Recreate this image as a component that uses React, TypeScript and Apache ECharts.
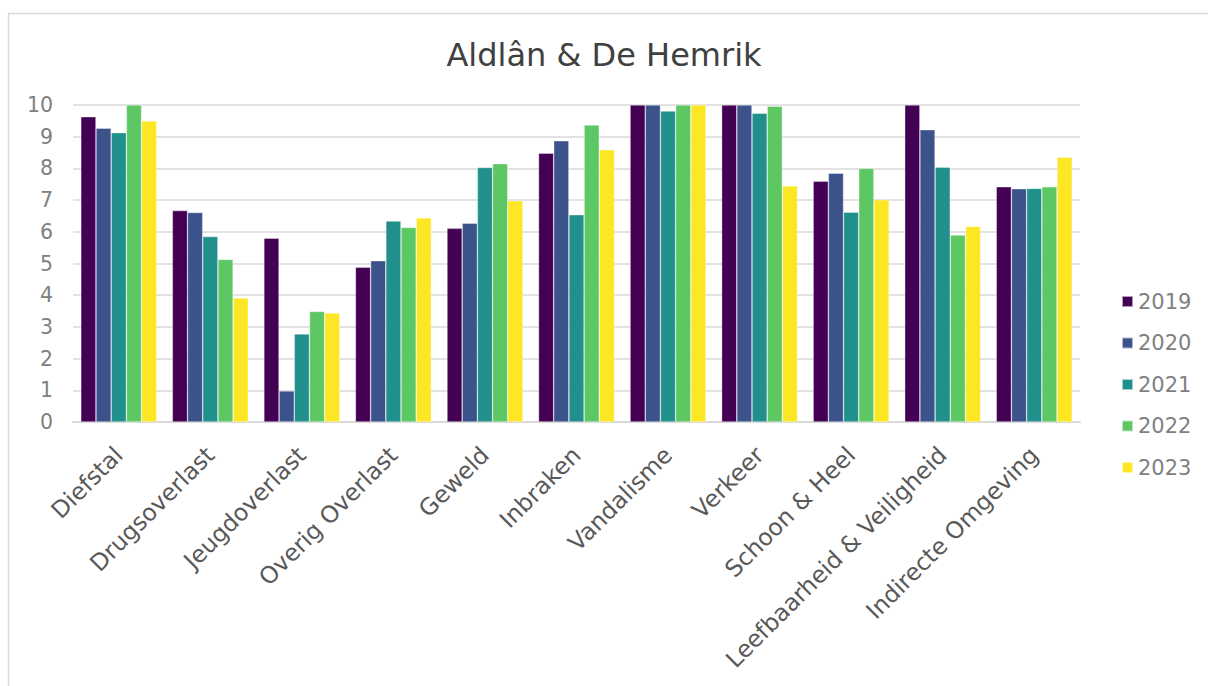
import React, { useEffect, useRef } from "react";
import * as echarts from "echarts";

const title = "Aldlân & De Hemrik";
const categories = [
  "Diefstal",
  "Drugsoverlast",
  "Jeugdoverlast",
  "Overig Overlast",
  "Geweld",
  "Inbraken",
  "Vandalisme",
  "Verkeer",
  "Schoon & Heel",
  "Leefbaarheid & Veiligheid",
  "Indirecte Omgeving",
];
const years = ["2019", "2020", "2021", "2022", "2023"];
const colors = ["#440154", "#3b528b", "#21908d", "#5dc863", "#fde725"];

const v2019 = [9.63, 6.67, 5.8, 4.88, 6.11, 8.48, 10, 10, 7.6, 10, 7.42];
const v2020 = [9.27, 6.61, 0.98, 5.09, 6.27, 8.87, 10, 10, 7.85, 9.22, 7.36];
const v2021 = [9.13, 5.85, 2.78, 6.34, 8.03, 6.54, 9.81, 9.74, 6.62, 8.04, 7.37];
const v2022 = [10, 5.13, 3.49, 6.14, 8.15, 9.37, 10, 9.96, 8.0, 5.9, 7.42];
const v2023 = [9.5, 3.91, 3.44, 6.44, 6.98, 8.59, 10, 7.45, 7.01, 6.17, 8.35];
const seriesValues = [v2019, v2020, v2021, v2022, v2023];

const yTicks = { min: 0, max: 10, interval: 1 };

export default function App() {
  const ref = useRef<HTMLDivElement>(null);
  useEffect(() => {
    if (!ref.current) return;
    const chart = echarts.init(ref.current, null, { renderer: "svg" });
    const font = "DejaVu Sans, Verdana, sans-serif";
    chart.setOption({
      animation: false,
      backgroundColor: "#ffffff",
      textStyle: { fontFamily: font },
      title: {
        text: title,
        left: "center",
        top: 34,
        textStyle: { fontFamily: font, fontSize: 32, fontWeight: "normal", color: "#404040" },
      },
      graphic: [
        {
          type: "rect",
          shape: { x: 8.5, y: 13.5, width: 1210, height: 700 },
          style: { fill: "none", stroke: "#d9d9d9", lineWidth: 1.5 },
          silent: true,
        },
      ],
      legend: {
        orient: "vertical",
        left: 1121,
        top: 291,
        padding: 0,
        itemWidth: 11,
        itemHeight: 11,
        itemGap: 20.5,
        icon: "rect",
        textStyle: { fontFamily: font, fontSize: 21, color: "#7f7f7f", lineHeight: 21 },
        data: years,
      },
      grid: { left: 73, right: 128, top: 105, bottom: 264, containLabel: false },
      xAxis: {
        type: "category",
        data: categories,
        axisLine: { lineStyle: { color: "#d9d9d9", width: 2 } },
        axisTick: { show: false },
        axisLabel: {
          rotate: 45,
          interval: 0,
          margin: 29,
          fontFamily: font,
          fontSize: 23.5,
          color: "#595959",
        },
      },
      yAxis: {
        type: "value",
        min: yTicks.min,
        max: yTicks.max,
        interval: yTicks.interval,
        axisLine: { show: false },
        axisTick: { show: false },
        splitLine: { lineStyle: { color: "#d9d9d9", width: 1.5 } },
        axisLabel: { fontFamily: font, fontSize: 20.5, color: "#808080", margin: 20 },
      },
      series: years.map((y, i) => ({
        name: y,
        type: "bar",
        data: seriesValues[i],
        barGap: "0%",
        barCategoryGap: "17%",
        itemStyle: { color: colors[i], borderColor: "rgba(255,255,255,0.6)", borderWidth: 0.6 },
      })),
    });
    return () => chart.dispose();
  }, []);
  return (
    <div
      ref={ref}
      style={{ position: "absolute", left: 0, top: 0, width: 1208, height: 686 }}
    />
  );
}
